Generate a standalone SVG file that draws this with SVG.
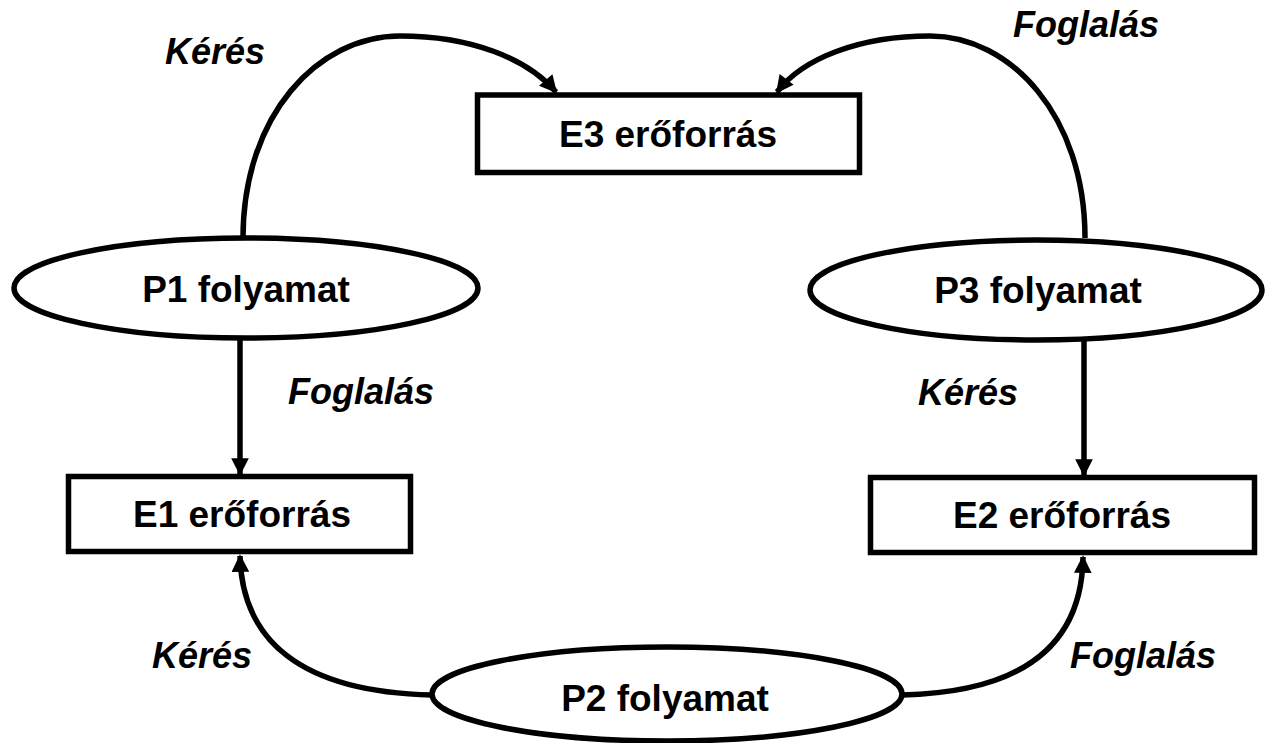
<svg xmlns="http://www.w3.org/2000/svg" width="1265" height="743" viewBox="0 0 1265 743">
  <defs>
    <marker id="arrow" viewBox="0 0 10 10" refX="9" refY="5" markerWidth="3.6" markerHeight="3.2" markerUnits="strokeWidth" orient="auto">
      <path d="M0,0 L10,5 L0,10 z" fill="#000"/>
    </marker>
    <style>
      .box { fill: #fff; stroke: #000; stroke-width: 5.5; }
      .proc { fill: #fff; stroke: #000; stroke-width: 5.5; }
      .node-text { font-family: "Liberation Sans", Arial, sans-serif; font-weight: bold; font-size: 37px; fill: #000; text-anchor: middle; }
      .label { font-family: "Liberation Sans", Arial, sans-serif; font-weight: bold; font-style: italic; font-size: 36px; fill: #000; }
      .edge { fill: none; stroke: #000; stroke-width: 5.5; marker-end: url(#arrow); }
    </style>
  </defs>
  <rect width="1265" height="743" fill="#fff"/>

  <!-- connectors -->
  <g id="connectors">
    <path class="edge" d="M243,238 C243,115 318,36 400,36 C470,36 527,58 556,92"/>
    <path class="edge" d="M1085,238 C1085,115 1010,36 930,36 C860,36 803,58 777,92"/>
    <path class="edge" d="M240,338 L240,474"/>
    <path class="edge" d="M1084,340 L1084,475"/>
    <path class="edge" d="M432,695 C300,692 242,640 240,556"/>
    <path class="edge" d="M902,695 C1030,692 1082,640 1083,557"/>
  </g>

  <!-- edge labels -->
  <g id="labels">
    <text class="label" x="165" y="64">Kérés</text>
    <text class="label" x="1013" y="37">Foglalás</text>
    <text class="label" x="288" y="404">Foglalás</text>
    <text class="label" x="918" y="405">Kérés</text>
    <text class="label" x="152" y="668">Kérés</text>
    <text class="label" x="1070" y="668">Foglalás</text>
  </g>

  <g id="E3">
    <rect class="box" x="477.5" y="95" width="382" height="77.5"/>
    <text class="node-text" x="668" y="147">E3 erőforrás</text>
  </g>
  <g id="E1">
    <rect class="box" x="68.5" y="476.5" width="342" height="75"/>
    <text class="node-text" x="242" y="527">E1 erőforrás</text>
  </g>
  <g id="E2">
    <rect class="box" x="870.5" y="477.5" width="384" height="75"/>
    <text class="node-text" x="1062" y="528">E2 erőforrás</text>
  </g>
  <g id="P1">
    <ellipse class="proc" cx="246" cy="288" rx="232" ry="50"/>
    <text class="node-text" x="246" y="302">P1 folyamat</text>
  </g>
  <g id="P3">
    <ellipse class="proc" cx="1036" cy="290" rx="226" ry="50"/>
    <text class="node-text" x="1038" y="303">P3 folyamat</text>
  </g>
  <g id="P2">
    <ellipse class="proc" cx="667" cy="694" rx="235" ry="47"/>
    <text class="node-text" x="665" y="711">P2 folyamat</text>
  </g>
</svg>
